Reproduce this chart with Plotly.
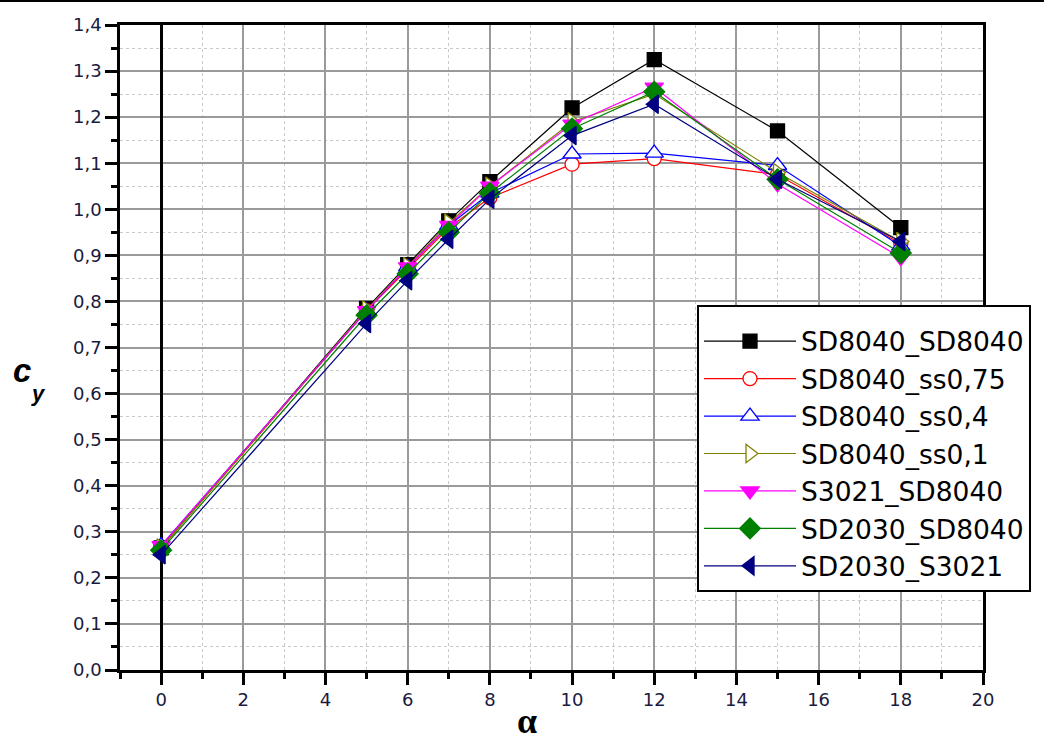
import plotly.graph_objects as go

alpha = [0, 5, 6, 7, 8, 10, 12, 15, 18]

series_names = ["SD8040_SD8040", "SD8040_ss0,75", "SD8040_ss0,4", "SD8040_ss0,1",
                "S3021_SD8040", "SD2030_SD8040", "SD2030_S3021"]

cy_sd8040_sd8040 = [0.265, 0.785, 0.880, 0.975, 1.060, 1.220, 1.325, 1.170, 0.960]
cy_sd8040_ss075 = [0.265, 0.780, 0.870, 0.960, 1.025, 1.098, 1.110, 1.075, 0.925]
cy_sd8040_ss04 = [0.270, 0.780, 0.875, 0.965, 1.035, 1.120, 1.122, 1.095, 0.920]
cy_sd8040_ss01 = [0.265, 0.782, 0.876, 0.970, 1.050, 1.190, 1.250, 1.080, 0.930]
cy_s3021_sd8040 = [0.270, 0.780, 0.875, 0.965, 1.050, 1.185, 1.265, 1.055, 0.895]
cy_sd2030_sd8040 = [0.260, 0.770, 0.860, 0.950, 1.035, 1.175, 1.255, 1.065, 0.905]
cy_sd2030_s3021 = [0.250, 0.752, 0.845, 0.935, 1.022, 1.160, 1.228, 1.065, 0.930]

series_values = [cy_sd8040_sd8040, cy_sd8040_ss075, cy_sd8040_ss04, cy_sd8040_ss01,
                 cy_s3021_sd8040, cy_sd2030_sd8040, cy_sd2030_s3021]

colors = ["#000000", "#ff0000", "#0000ff", "#808000", "#ff00ff", "#008000", "#000080"]
symbols = ["square", "circle", "triangle-up", "triangle-right", "triangle-down", "diamond", "triangle-left"]
filled = [True, False, False, False, True, True, True]
sizes = [14, 14, 16, 16, 16, 16, 16]

x_ticks = list(range(0, 21, 2))
y_ticks = [round(0.1 * i, 1) for i in range(15)]

fig = go.Figure()
for name, vals, col, sym, fil, sz in zip(series_names, series_values, colors, symbols, filled, sizes):
    fig.add_trace(go.Scatter(
        x=alpha, y=vals, name=name, mode="lines+markers",
        line=dict(color=col, width=1.2),
        marker=dict(symbol=sym, size=sz, color=col if fil else "white",
                    line=dict(color=col, width=1.3)),
    ))

axis_common = dict(
    showline=True, linecolor="black", linewidth=2.5, mirror=True,
    ticks="outside", ticklen=12, tickwidth=2.5, tickcolor="black",
    showgrid=True, gridcolor="#9a9a9a", gridwidth=1.5,
    tickfont=dict(family="DejaVu Sans", size=18, color="#1a1a40"),
)

fig.update_xaxes(
    range=[-1, 20], tickvals=x_ticks, zeroline=True, zerolinecolor="black", zerolinewidth=2.5,
    minor=dict(dtick=1, tick0=-1, ticklen=6, tickwidth=2.5, tickcolor="black",
               ticks="outside", showgrid=True, gridcolor="#c8c8c8", griddash="dot", gridwidth=1.2),
    **axis_common,
)
fig.update_yaxes(
    range=[0, 1.4], tickvals=y_ticks, tickformat=".1f", zeroline=False,
    minor=dict(dtick=0.05, tick0=0, ticklen=6, tickwidth=2.5, tickcolor="black",
               ticks="outside", showgrid=True, gridcolor="#c8c8c8", griddash="dot", gridwidth=1.2),
    **axis_common,
)

W, H = 1044, 740
L, R, T, B = 120, 61, 25, 70
pw, ph = W - L - R, H - T - B


def px_to_paper(px, py):
    return (px - L) / pw, (H - B - py) / ph


ax, ay = px_to_paper(527, 721)
cx, cy = px_to_paper(22, 370)
sx, sy = px_to_paper(38, 393)
lx, ly = px_to_paper(697, 305)

fig.update_layout(
    width=W, height=H,
    margin=dict(l=L, r=R, t=T, b=B),
    plot_bgcolor="white", paper_bgcolor="white",
    separators=",.",
    showlegend=True,
    legend=dict(
        x=lx, y=ly, xanchor="left", yanchor="top",
        bgcolor="white", bordercolor="black", borderwidth=2,
        font=dict(family="DejaVu Sans", size=26.5, color="black"),
        itemwidth=92, tracegroupgap=0,
        title=dict(text=" ", font=dict(size=8)),
    ),
    annotations=[
        dict(text="<b>α</b>", x=ax, y=ay, xref="paper", yref="paper", showarrow=False,
             xanchor="center", yanchor="middle",
             font=dict(family="Liberation Serif", size=36, color="black")),
        dict(text="<b><i>c</i></b>", x=cx, y=cy,
             xref="paper", yref="paper", xanchor="center", yanchor="middle",
             showarrow=False, font=dict(family="Liberation Sans", size=33, color="black")),
        dict(text="<b><i>y</i></b>", x=sx, y=sy,
             xref="paper", yref="paper", xanchor="center", yanchor="middle",
             showarrow=False, font=dict(family="Liberation Sans", size=22, color="black")),
    ],
    shapes=[
        dict(type="line", xref="paper", yref="paper", x0=-0.2, x1=1.2,
             y0=(H - B - 1) / ph, y1=(H - B - 1) / ph, line=dict(color="black", width=2)),
    ],
)

fig.write_html("out.html", config={"displayModeBar": False},
               post_script="document.body.style.margin='0';document.body.style.padding='0';")
